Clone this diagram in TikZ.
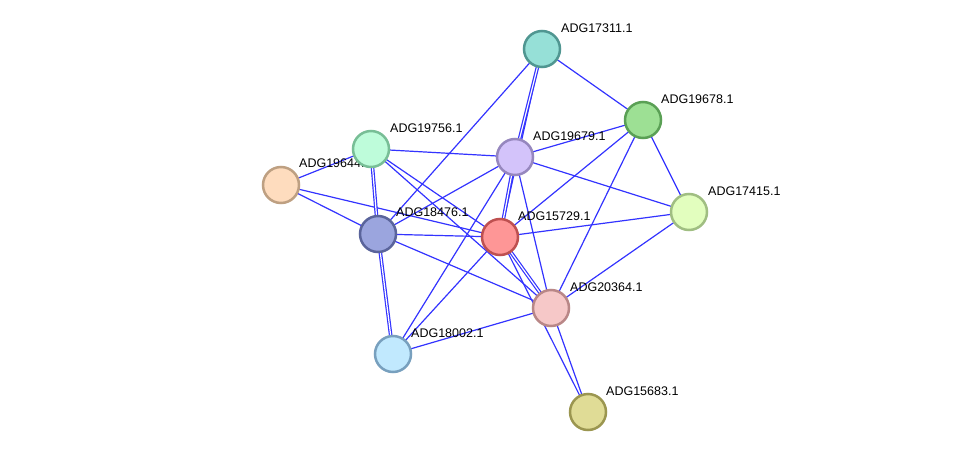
\documentclass[tikz,border=0pt]{standalone}
\usepackage{fontspec}
\setmainfont{Liberation Sans}
\begin{document}
\tikzset{
  prot/.style={circle, minimum size=36pt, line width=2.5pt, inner sep=0pt},
  lnk/.style={blue!80!white, line width=1.2pt},
  tag/.style={anchor=west, font=\fontsize{12.5}{14}\selectfont, inner sep=0pt}
}
\begin{tikzpicture}[x=1pt,y=-1pt]
  \useasboundingbox (0,0) rectangle (975,458);
  %proteine
  \coordinate (pa) at (542,49);
  \coordinate (pb) at (643,120);
  \coordinate (pc) at (515,157);
  \coordinate (pd) at (371,149);
  \coordinate (pe) at (281,185);
  \coordinate (pf) at (378,234);
  \coordinate (pg) at (500,237);
  \coordinate (ph) at (689,212);
  \coordinate (pi) at (551,308);
  \coordinate (pj) at (393,354);
  \coordinate (pk) at (588,412);
  %kanten
  \foreach \u/\v in {pa/pf,pa/pg,pa/pb,pb/pc,pb/pg,pb/pi,pb/ph,pc/ph,pc/pd,pc/pf,pc/pj,pc/pi,
    pd/pe,pd/pg,pd/pi,pe/pf,pe/pg,pf/pg,pf/pi,pg/ph,pg/pj,pg/pk,pi/ph,pi/pj,pi/pk}
    \draw[lnk] (\u) -- (\v);
  \foreach \u/\v in {pa/pc,pc/pg,pd/pf,pf/pj,pg/pi}
    \draw[lnk, double distance=1.2pt] (\u) -- (\v);
  %beschriftung
  \node[tag] at (561,28) {ADG17311.1};
  \node[tag] at (661,99) {ADG19678.1};
  \node[tag] at (533,136) {ADG19679.1};
  \node[tag] at (390,128) {ADG19756.1};
  \node[tag] at (299,163) {ADG19644.1};
  \node[tag] at (396,212) {ADG18476.1};
  \node[tag] at (518,216) {ADG15729.1};
  \node[tag] at (708,191) {ADG17415.1};
  \node[tag] at (570,287) {ADG20364.1};
  \node[tag] at (411,333) {ADG18002.1};
  \node[tag] at (606,391) {ADG15683.1};
  %knoten
  \node[prot, fill={rgb,255:red,150;green,224;blue,215}, draw={rgb,255:red,80;green,150;blue,145}] (n17311) at (pa) {};
  \node[prot, fill={rgb,255:red,157;green,224;blue,148}, draw={rgb,255:red,90;green,160;blue,85}] (n19678) at (pb) {};
  \node[prot, fill={rgb,255:red,211;green,195;blue,250}, draw={rgb,255:red,150;green,135;blue,190}] (n19679) at (pc) {};
  \node[prot, fill={rgb,255:red,190;green,252;blue,218}, draw={rgb,255:red,120;green,190;blue,150}] (n19756) at (pd) {};
  \node[prot, fill={rgb,255:red,254;green,220;blue,190}, draw={rgb,255:red,190;green,160;blue,130}] (n19644) at (pe) {};
  \node[prot, fill={rgb,255:red,155;green,165;blue,222}, draw={rgb,255:red,90;green,100;blue,155}] (n18476) at (pf) {};
  \node[prot, fill={rgb,255:red,254;green,150;blue,150}, draw={rgb,255:red,190;green,80;blue,80}] (n15729) at (pg) {};
  \node[prot, fill={rgb,255:red,226;green,254;blue,190}, draw={rgb,255:red,160;green,190;blue,130}] (n17415) at (ph) {};
  \node[prot, fill={rgb,255:red,246;green,200;blue,200}, draw={rgb,255:red,185;green,135;blue,135}] (n20364) at (pi) {};
  \node[prot, fill={rgb,255:red,193;green,233;blue,254}, draw={rgb,255:red,120;green,160;blue,190}] (n18002) at (pj) {};
  \node[prot, fill={rgb,255:red,224;green,220;blue,150}, draw={rgb,255:red,155;green,150;blue,80}] (n15683) at (pk) {};
\end{tikzpicture}
\end{document}
